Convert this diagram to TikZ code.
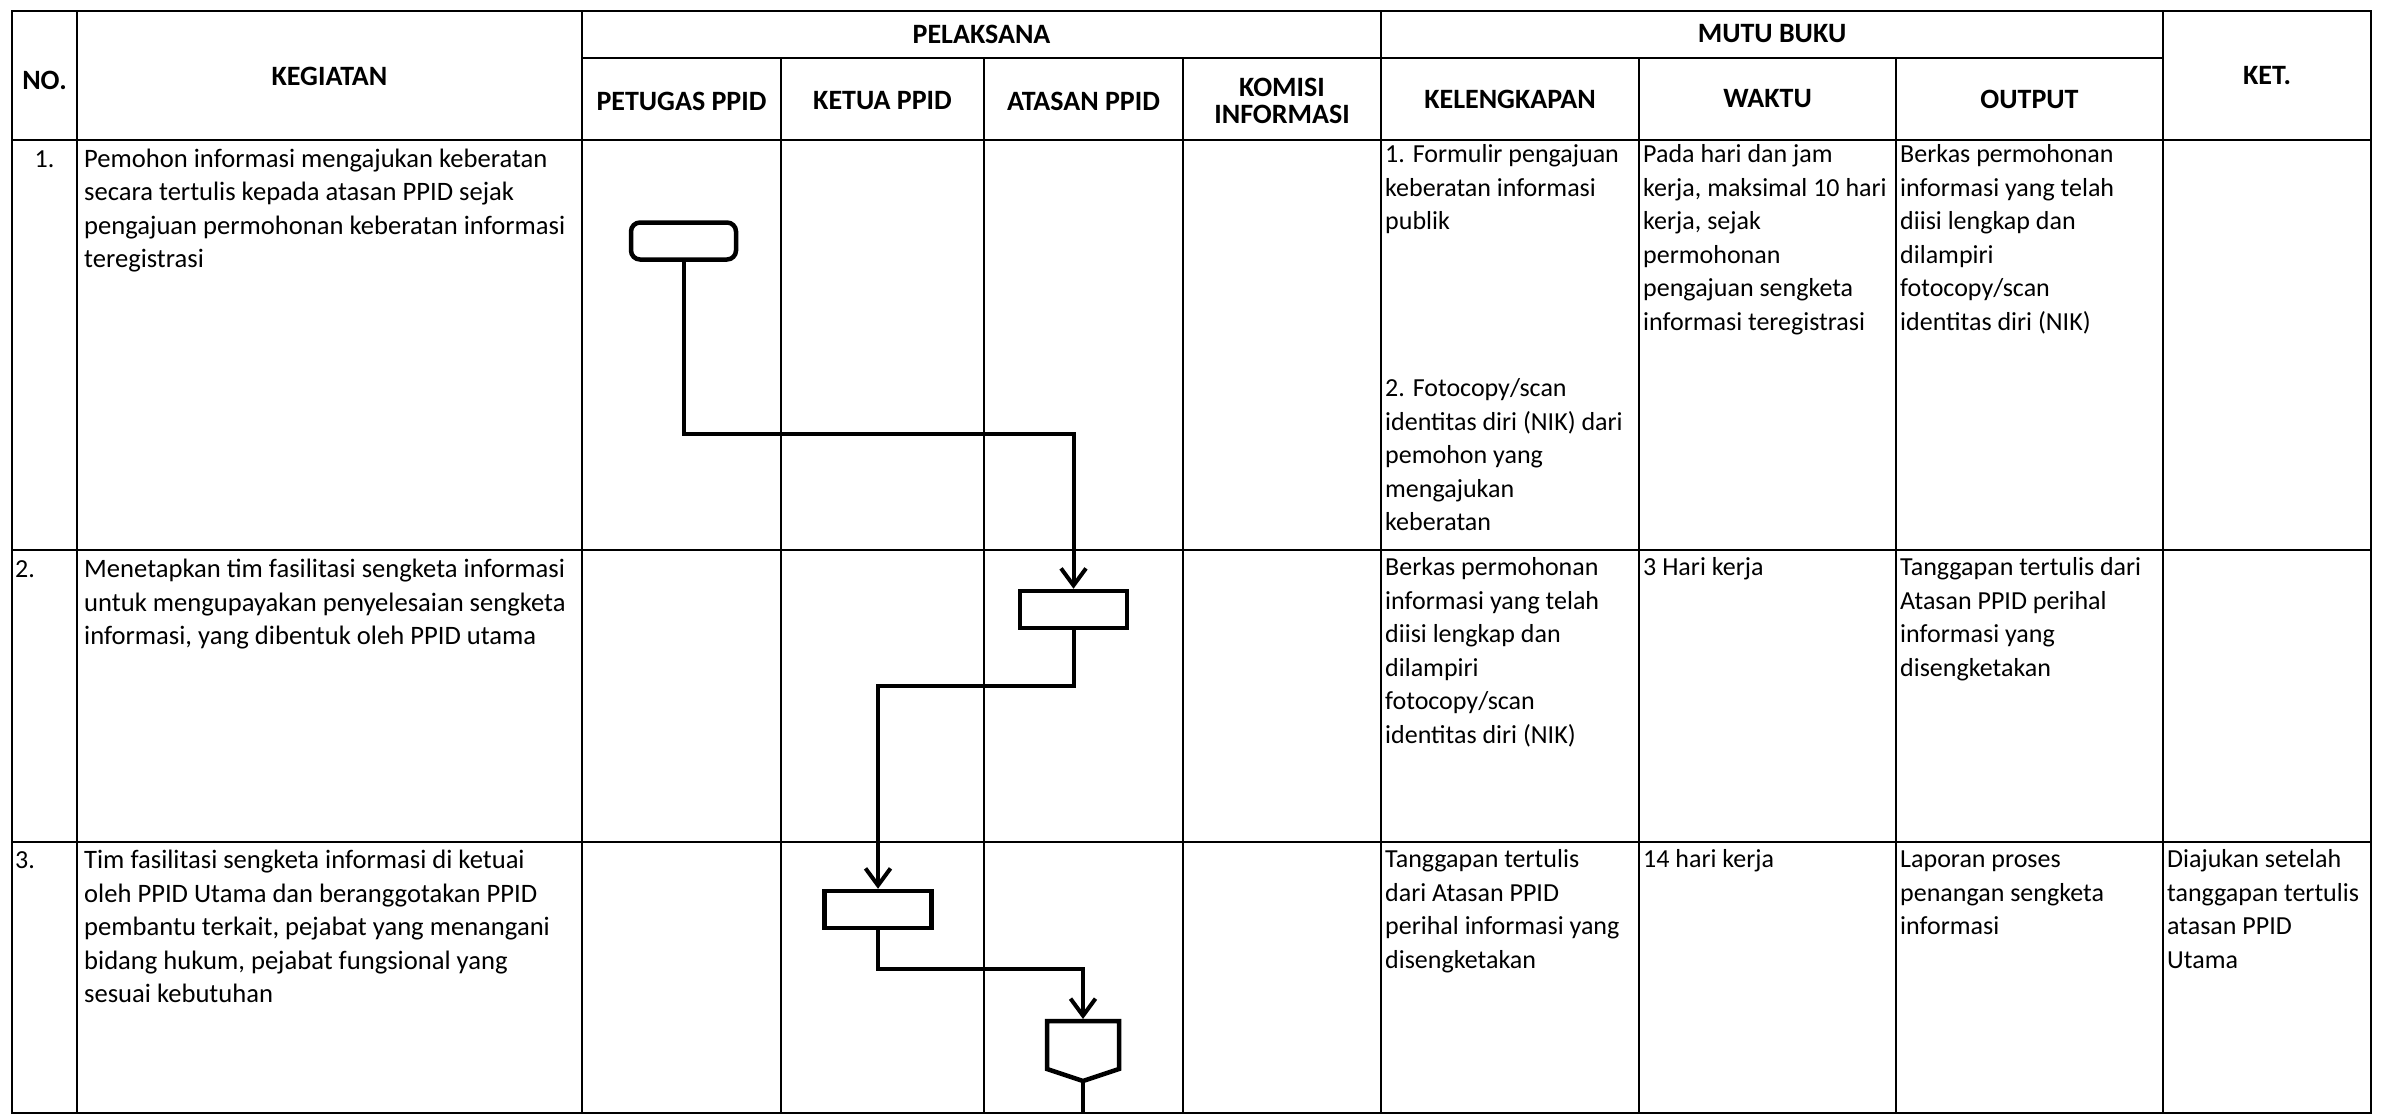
\documentclass[tikz,border=0pt]{standalone}
\usepackage{fontspec}
\setmainfont{Carlito}
\usetikzlibrary{arrows.meta}
\begin{document}
\begin{tikzpicture}[x=1pt,y=-1pt,
  gridline/.style={line width=2.8pt, line cap=rect},
  cell/.style={anchor=north west, inner sep=0pt, align=left, font=\fontsize{26}{33.5}\selectfont},
  wide/.style={font=\fontsize{26.6}{33.5}\selectfont},
  hdr/.style={inner sep=0pt, align=center, font=\bfseries\fontsize{28}{27}\selectfont},
  startbox/.style={draw, line width=4.5pt, rounded corners=9pt, minimum width=105pt, minimum height=37pt, inner sep=0pt},
  procbox/.style={draw, line width=4.5pt, minimum width=107pt, minimum height=37pt, inner sep=0pt},
  conn/.style={line width=4pt},
  arr/.style={conn, -{Straight Barb[length=17pt,width=25pt]}}
]
\useasboundingbox[fill=white] (0,0) rectangle (2389,1116);

% ---------- grid ----------
\draw[gridline] (12,11) -- (2371,11);
\draw[gridline] (582,58) -- (2163,58);
\draw[gridline] (12,140) -- (2371,140);
\draw[gridline] (12,550) -- (2371,550);
\draw[gridline] (12,842) -- (2371,842);
\draw[gridline] (12,1113) -- (2371,1113);
\foreach \x in {12,77,582,1381,2163,2371} \draw[gridline] (\x,11) -- (\x,1113);
\foreach \x in {781,984,1183,1639,1896} \draw[gridline] (\x,58) -- (\x,1113);

% ---------- header ----------
\node[hdr] (hPel) at (981.5,34) {PELAKSANA};
\node[hdr] (hMutu) at (1772,34) {MUTU BUKU};
\node[hdr] (hNo) at (44.5,80) {NO.};
\node[hdr] (hKeg) at (329.5,76) {KEGIATAN};
\node[hdr] (hKet) at (2267,76) {KET.};
\node[hdr] (hPet) at (681.5,101) {PETUGAS PPID};
\node[hdr] (hKetua) at (882.5,101) {KETUA PPID};
\node[hdr] (hAtas) at (1083.5,101) {ATASAN PPID};
\node[hdr] (hKom) at (1282,101) {KOMISI\\INFORMASI};
\node[hdr] (hKel) at (1510,99) {KELENGKAPAN};
\node[hdr] (hWak) at (1767.5,99) {WAKTU};
\node[hdr] (hOut) at (2029.5,99) {OUTPUT};

% ---------- row 1 ----------
\node[cell, anchor=north] (r1no) at (44.5,143.5) {\strut 1.};
\node[cell, wide] (r1keg) at (84,143.5) {\strut Pemohon informasi mengajukan keberatan\\secara tertulis kepada atasan PPID sejak\\pengajuan permohonan keberatan informasi\\teregistrasi};
\node[cell] (r1kelA) at (1385,139) {\strut 1. Formulir pengajuan\\keberatan informasi\\publik};
\node[cell] (r1kelB) at (1385,373) {\strut 2. Fotocopy/scan\\identitas diri (NIK) dari\\pemohon yang\\mengajukan\\keberatan};
\node[cell] (r1wak) at (1643,139) {\strut Pada hari dan jam\\kerja, maksimal 10 hari\\kerja, sejak\\permohonan\\pengajuan sengketa\\informasi teregistrasi};
\node[cell] (r1out) at (1900,139) {\strut Berkas permohonan\\informasi yang telah\\diisi lengkap dan\\dilampiri\\fotocopy/scan\\identitas diri (NIK)};

% ---------- row 2 ----------
\node[cell] (r2no) at (15,554) {\strut 2.};
\node[cell, wide] (r2keg) at (84,554) {\strut Menetapkan tim fasilitasi sengketa informasi\\untuk mengupayakan penyelesaian sengketa\\informasi, yang dibentuk oleh PPID utama};
\node[cell] (r2kel) at (1385,552) {\strut Berkas permohonan\\informasi yang telah\\diisi lengkap dan\\dilampiri\\fotocopy/scan\\identitas diri (NIK)};
\node[cell] (r2wak) at (1643,552) {\strut 3 Hari kerja};
\node[cell] (r2out) at (1900,552) {\strut Tanggapan tertulis dari\\Atasan PPID perihal\\informasi yang\\disengketakan};

% ---------- row 3 ----------
\node[cell] (r3no) at (15,845) {\strut 3.};
\node[cell, wide] (r3keg) at (84,845) {\strut Tim fasilitasi sengketa informasi di ketuai\\oleh PPID Utama dan beranggotakan PPID\\pembantu terkait, pejabat yang menangani\\bidang hukum, pejabat fungsional yang\\sesuai kebutuhan};
\node[cell] (r3kel) at (1385,844) {\strut Tanggapan tertulis\\dari Atasan PPID\\perihal informasi yang\\disengketakan};
\node[cell] (r3wak) at (1643,844) {\strut 14 hari kerja};
\node[cell] (r3out) at (1900,844) {\strut Laporan proses\\penangan sengketa\\informasi};
\node[cell] (r3ket) at (2167,844) {\strut Diajukan setelah\\tanggapan tertulis\\atasan PPID\\Utama};

% ---------- flow ----------
\node[startbox] (s1) at (683.5,241) {};
\node[procbox] (p2) at (1073.5,609.5) {};
\node[procbox] (p3) at (878,909.5) {};
\coordinate (pentTop) at (1083,1019);
\coordinate (pentBot) at (1083,1081);
\coordinate (offEnd) at (1083,1113);
\draw[line width=4.5pt, line join=miter] (1047,1021) -- (1119,1021) -- (1119,1069) -- (1083,1081) -- (1047,1069) -- cycle;

\draw[arr] (s1.south) -- ++(0,172) -| (p2.north);
\draw[arr] (p2.south) -- ++(0,56) -| (p3.north);
\draw[arr] (p3.south) -- ++(0,39) -| (pentTop);
\draw[conn] (pentBot) -- (offEnd);
\end{tikzpicture}
\end{document}
